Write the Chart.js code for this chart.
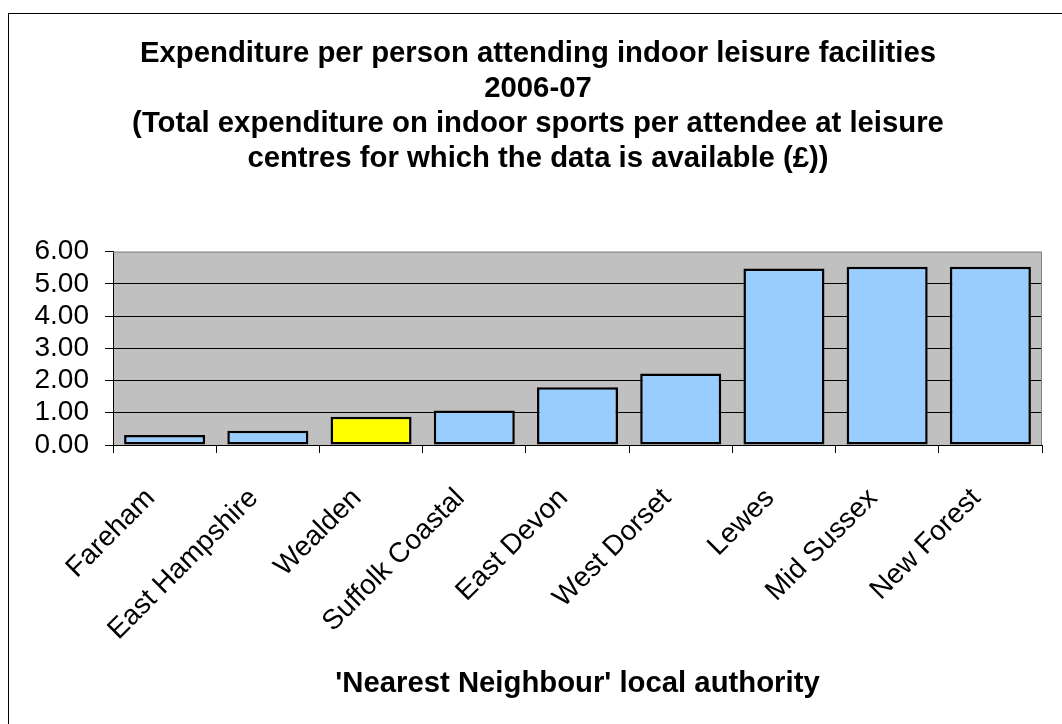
<!DOCTYPE html>
<html>
<head>
<meta charset="utf-8">
<script src="https://cdn.jsdelivr.net/npm/chart.js@4"></script>
<style>
  html, body { margin: 0; padding: 0; background: #fff; overflow: hidden; }
  #wrap { position: relative; width: 1062px; height: 724px; }
  #frame { position: absolute; left: 8px; top: 13px; width: 1100px; height: 800px; border: 1px solid #000; box-sizing: border-box; }
  canvas { position: absolute; left: 0; top: 0; }
</style>
</head>
<body>
<div id="wrap">
  <div id="frame"></div>
  <canvas id="chart" width="1062" height="724"></canvas>
</div>
<script>
const titleLines = [
  'Expenditure per person attending indoor leisure facilities',
  '2006-07',
  '(Total expenditure on indoor sports per attendee at leisure',
  'centres for which the data is available (£))'
];
const xAxisTitle = "'Nearest Neighbour' local authority";
const authorities = ['Fareham', 'East Hampshire', 'Wealden', 'Suffolk Coastal', 'East Devon', 'West Dorset', 'Lewes', 'Mid Sussex', 'New Forest'];
const spendPerAttendee = [0.31, 0.44, 0.88, 1.07, 1.79, 2.22, 5.48, 5.53, 5.53];
const highlighted = 'Wealden';

const FONT = 'Arial, "Liberation Sans", sans-serif';

// grey plot area with a light border on top and right
const plotArea = {
  id: 'plotArea',
  beforeDraw (chart) {
    const { ctx, chartArea: a } = chart;
    ctx.save();
    ctx.fillStyle = '#c0c0c0';
    ctx.fillRect(a.left, a.top, a.right - a.left, a.bottom - a.top);
    ctx.restore();
  },
  afterDraw (chart) {
    const { ctx, chartArea: a } = chart;
    ctx.save();
    ctx.strokeStyle = '#808080';
    ctx.lineWidth = 1;
    ctx.beginPath();
    ctx.moveTo(a.left, a.top + 0.5);
    ctx.lineTo(a.right - 0.5, a.top + 0.5);
    ctx.lineTo(a.right - 0.5, a.bottom);
    ctx.stroke();
    ctx.restore();
  }
};

const ctx = document.getElementById('chart').getContext('2d');
const chart = new Chart(ctx, {
  type: 'bar',
  data: {
    labels: authorities,
    datasets: [{
      data: spendPerAttendee,
      backgroundColor: authorities.map(a => a === highlighted ? '#ffff00' : '#99ccff'),
      borderColor: '#000',
      borderWidth: 2.5,
      borderSkipped: false,
      barPercentage: 0.785,
      categoryPercentage: 1
    }]
  },
  options: {
    responsive: false,
    animation: false,
    layout: { padding: { left: 34, right: 20, top: 0, bottom: 0 } },
    plugins: {
      legend: { display: false },
      tooltip: { enabled: false },
      title: {
        display: true,
        text: titleLines,
        color: '#000',
        font: { family: FONT, size: 29.3, weight: 'bold', lineHeight: 1.2 },
        padding: { top: 36, bottom: 75 }
      }
    },
    scales: {
      x: {
        afterFit (scale) { scale.height = 724 - 445; },
        border: { display: true, color: '#000', width: 1 },
        grid: { drawOnChartArea: false, drawTicks: true, tickLength: 8, color: '#000' },
        ticks: {
          color: '#000',
          font: { family: FONT, size: 28 },
          minRotation: 45,
          maxRotation: 45,
          padding: 29,
          labelOffset: -14,
          autoSkip: false
        },
        title: {
          display: true,
          text: xAxisTitle,
          color: '#000',
          font: { family: FONT, size: 29.3, weight: 'bold', lineHeight: 1.2 },
          padding: { top: 0, bottom: 23 }
        }
      },
      y: {
        min: 0,
        max: 6,
        afterFit (scale) { scale.width = 79; },
        border: { display: true, color: '#000', width: 1 },
        grid: {
          color: c => c.tick && c.tick.value === 6 ? 'rgba(0,0,0,0)' : '#000',
          tickColor: '#000',
          tickLength: 8
        },
        ticks: {
          stepSize: 1,
          autoSkip: false,
          color: '#000',
          padding: 16,
          font: { family: FONT, size: 28 },
          callback: v => v.toFixed(2)
        }
      }
    }
  },
  plugins: [plotArea]
});
</script>
</body>
</html>
